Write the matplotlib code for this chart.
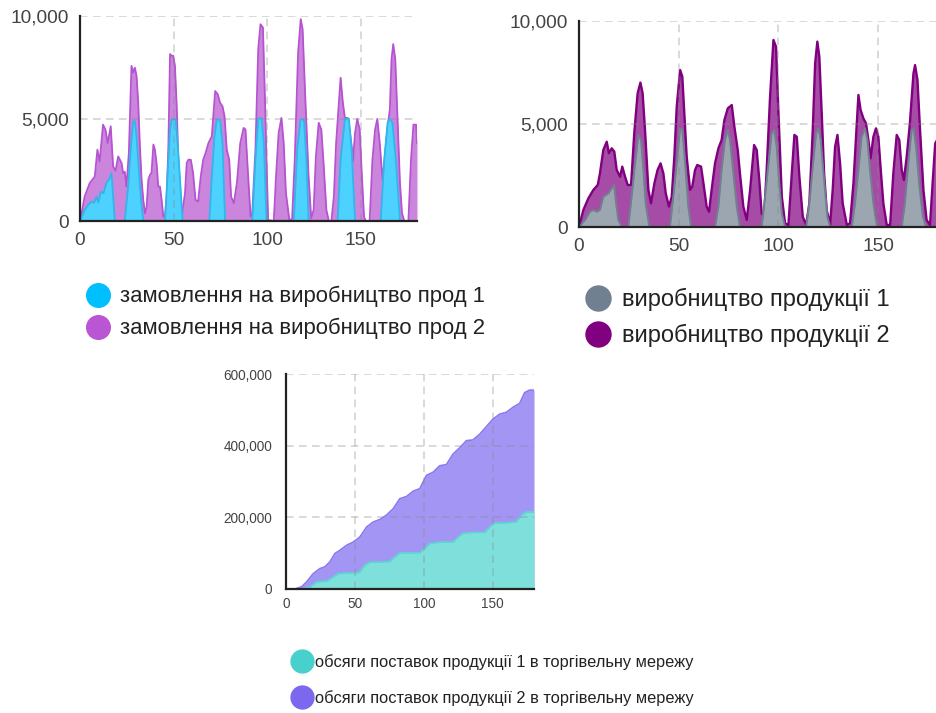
import matplotlib
matplotlib.use('Agg')
import numpy as np
import matplotlib.pyplot as plt
from matplotlib.lines import Line2D
from matplotlib.ticker import FuncFormatter

# points: (day, units)
orders_1 = [(0, 0), (2.5, 540), (4.5, 800), (6.1, 950), (7.5, 880), (8.8, 1190), (9.8, 900), (11.1, 1440),
            (12.5, 1350), (14.1, 1850), (15.9, 2090), (16.8, 2340), (17.7, 1190), (18.6, 0),
            (23.9, 0), (25.7, 1680), (27.2, 3640), (28.4, 4870), (29.3, 4870), (30.2, 4130), (31.4, 2500),
            (32.6, 1030), (33.8, 0),
            (45.4, 0), (46.9, 2500), (48.1, 4460), (49, 4950), (51.1, 4950), (52.5, 3320), (53.9, 1360), (54.8, 0),
            (69.1, 0), (70.4, 2170), (71.8, 4130), (73.1, 4950), (74.8, 4950), (76.1, 3800), (77.5, 0),
            (92, 0), (93.7, 2990), (95.2, 5000), (97, 5000), (98.2, 3800), (99.6, 0),
            (114.2, 0), (116, 3480), (117.8, 4950), (119.6, 4950), (120.9, 2990), (122.1, 0),
            (137.6, 0), (139.2, 2990), (141.5, 5000), (143.6, 5000), (145.1, 3480), (146.9, 0),
            (160.6, 0), (162.5, 2990), (164.3, 4790), (165.5, 5000), (166.9, 4790), (168.7, 2990), (170.9, 0),
            (180, 0)]
orders_2 = [(0, 0), (1, 450), (2.5, 1200), (5.2, 1850), (7.9, 2170), (9.3, 3480), (10.5, 2900), (12.3, 4700),
            (13.6, 4460), (14.8, 3800), (16.4, 4620), (17.7, 2660), (19, 2450), (20.4, 3150), (22.2, 2830),
            (23, 2340), (23.9, 2400), (24.8, 1680), (26.1, 3320), (27.2, 6590), (27.5, 7570), (28.4, 7240),
            (29.3, 7480), (30.2, 7080), (31.1, 5770), (32, 3640), (32.9, 2010), (33.8, 1030), (34.7, 375),
            (35.6, 700), (36.5, 2010), (37.4, 2260), (38.2, 2340), (39.2, 3730), (40, 3480), (40.9, 2830),
            (41.8, 1680), (42.7, 1680), (43.6, 1030), (44.5, 210), (45.4, 210), (46.3, 1190), (47.2, 3640),
            (48.1, 8140), (49, 8060), (49.8, 8060), (50.7, 7570), (51.6, 5770), (52.5, 2990), (53.4, 1360),
            (54.3, 210), (56.1, 1360), (57, 2830), (57.9, 2990), (59.2, 2990), (60.4, 2340), (61.7, 1030),
            (63.1, 950), (64.5, 2170), (65.8, 2990), (67.1, 3320), (68.6, 3800), (70.4, 4130), (72.2, 6340),
            (73.6, 6180), (74.8, 5770), (76.1, 5600), (77.2, 5110), (78.4, 3480), (79.7, 2990), (80.7, 1190),
            (82.2, 870), (83.8, 1850), (85.6, 3800), (87.4, 4540), (88.4, 4460), (89.3, 2990), (91.1, 210),
            (92, 380), (93.7, 3480), (95.2, 8380), (96.4, 9600), (97.7, 9440), (98.7, 6260), (99.6, 2990),
            (100.5, 50), (103.5, 0), (104.7, 2170), (106.1, 4300), (107.6, 5030), (108.8, 3800), (110, 1360),
            (111.9, 0), (113.3, 130), (114.7, 2990), (116.5, 8220), (117.9, 9850), (118.9, 9360), (120.3, 6100),
            (122.1, 2170), (123.5, 130), (124.8, 540), (126, 3150), (127.5, 4790), (128.9, 4460), (130.2, 2660),
            (131.6, 540), (132.9, 0), (134.3, 0), (135.6, 1190), (136.8, 3800), (138.3, 5770), (139.2, 6990),
            (140.4, 5770), (141.5, 5030), (142.8, 5030), (144, 4460), (145.1, 3640), (145.8, 2910), (146.9, 4300),
            (148.1, 4980), (149.4, 4460), (150.4, 2500), (151.7, 210), (152.6, 0), (154.7, 0), (156.2, 2990),
            (157.6, 4460), (158.8, 4980), (160.1, 3800), (161.6, 2010), (163, 3310), (164.3, 4620), (165.5, 5440),
            (166.4, 7890), (167.3, 8630), (168.4, 7890), (169.6, 4980), (170.9, 1850), (172, 380), (173.2, 0),
            (175.4, 0), (176.8, 2990), (178.1, 4700), (179.5, 4700), (180, 3800)]

production_1 = [(0, 0), (3, 340), (5.5, 740), (7.2, 830), (8.9, 740), (10.5, 830), (12.2, 1470), (14.7, 1630),
                (16.4, 1880), (17.6, 2040), (18.6, 1150), (19.7, 340), (21.4, 0),
                (24.7, 0), (26.4, 1470), (28.1, 3090), (29.8, 4470), (31.1, 4220), (32.3, 2770), (33.4, 1150),
                (35.1, 100), (36, 0),
                (45.6, 0), (47.3, 1470), (49, 3090), (50.7, 4790), (51.8, 4710), (53.2, 3090), (54.8, 990), (56.2, 0),
                (68.2, 0), (69.9, 990), (71.5, 2770), (73.2, 4220), (74.6, 4710), (75.7, 4220), (77.4, 2600),
                (79.1, 990), (80.7, 0),
                (91.6, 0), (93.3, 1470), (95, 3090), (96.6, 4550), (97.8, 4710), (99.1, 3900), (100.4, 2120),
                (101.7, 660), (103.3, 0),
                (113.9, 0), (115.5, 1150), (117.2, 2930), (118.9, 4550), (120, 4790), (121.2, 4220), (122.9, 2280),
                (124.5, 500), (125.9, 0),
                (136.8, 0), (138.4, 1150), (140.1, 2770), (141.7, 4380), (143.4, 4790), (144.6, 4220), (145.9, 2770),
                (147.6, 1150), (149.3, 100), (150.5, 0),
                (161.8, 0), (163.4, 1150), (165.1, 3090), (166.8, 4710), (167.7, 4790), (169, 3900), (170.7, 1960),
                (172.4, 500), (174.1, 0), (180, 0)]
production_2 = [(0, 0), (2.2, 830), (4.7, 1390), (7.2, 1800), (9.4, 2040), (10.5, 2600), (12.2, 3740), (13.9, 4140),
                (15, 3580), (16.4, 3820), (17.7, 3660), (18.9, 2770), (20.6, 2440), (21.7, 2930), (23.1, 2440),
                (24.4, 2040), (26.1, 2040), (27.7, 4550), (29.4, 6490), (30.8, 7010), (31.9, 6490), (33.1, 4710),
                (34.8, 1800), (36.1, 1150), (37.8, 2120), (39.4, 2770), (40.9, 3090), (42.3, 2600), (43.5, 1630),
                (45.1, 990), (46.5, 1470), (47.8, 3410), (49, 5840), (50.7, 7620), (51.8, 7300), (52.8, 5520),
                (54, 3410), (55.7, 1800), (56.8, 1960), (58.2, 2770), (59.3, 3010), (61.2, 2930), (62.4, 2120),
                (64, 990), (65.2, 740), (66.5, 1800), (68.2, 3090), (69.9, 3820), (71.5, 4220), (72.9, 5190),
                (74.6, 5760), (76.6, 5920), (77.9, 4870), (79.6, 3740), (80.7, 2600), (82.4, 990), (84.1, 340),
                (85.8, 1800), (87.8, 3980), (89.1, 3740), (90.4, 2280), (91.6, 660), (92.8, 500), (94.1, 2770),
                (95.8, 6330), (97.5, 9080), (98.8, 8750), (100, 5520), (101.7, 1470), (103.3, 180), (105, 100),
                (106.7, 2600), (108, 4470), (109.2, 4380), (110.5, 2440), (112.2, 500), (113.9, 100), (115.5, 1150),
                (117.2, 4710), (118.4, 7940), (119.5, 9000), (120.5, 8270), (121.7, 5520), (122.9, 2600), (124.2, 830),
                (125.9, 100), (127.2, 1800), (128.4, 3900), (129.6, 4470), (130.9, 3090), (132.2, 1150), (134.3, 100),
                (135.9, 180), (137.6, 2120), (138.9, 4380), (140.1, 6410), (141.2, 5680), (142.6, 5270), (143.9, 5030),
                (145.1, 4220), (146.2, 3330), (147.6, 4380), (148.9, 4790), (150.1, 4380), (151.3, 2770), (152.6, 1150),
                (154.3, 100), (156, 100), (157.6, 2600), (159.3, 4470), (160.6, 4220), (161.8, 2770), (162.9, 2280),
                (164.3, 3410), (165.9, 5030), (167.7, 7460), (168.5, 7860), (169.7, 7140), (171, 4710), (172.7, 1800),
                (174.3, 340), (176, 100), (177.4, 2280), (178.6, 4060), (180, 4300)]

deliveries_1 = [(0, 0), (12, 0), (17.4, 6000), (22.2, 20000), (29.5, 22000), (34.3, 34000), (37.9, 43000),
                (44, 45000), (51.2, 45000), (53.6, 48000), (57.2, 67000), (60.9, 75000), (68.1, 75000),
                (75.4, 77000), (79, 90000), (82.6, 101000), (97.1, 101000), (100.7, 113000), (104.3, 127000),
                (111.6, 131000), (121.3, 131000), (124.9, 145000), (128.5, 156000), (135.7, 158000), (144.2, 158000),
                (147.8, 173000), (151.4, 184000), (159.9, 185000), (167.1, 187000), (170.8, 206000), (174.4, 215000),
                (180, 215000)]
deliveries_2 = [(0, 0), (6.5, 0), (11.4, 6500), (15, 20000), (19.8, 43000), (24.6, 57000), (28.3, 62000),
                (31.9, 76000), (35.5, 99000), (39.1, 108000), (44, 122000), (48.8, 131000), (53.6, 145000),
                (58.5, 173000), (63.3, 187000), (68.1, 194000), (72.9, 206000), (77.8, 224000), (82.6, 252000),
                (87.4, 258000), (92.3, 273000), (97.1, 280000), (101.9, 317000), (106.8, 326000), (111.6, 344000),
                (116.4, 347000), (121.3, 377000), (126.1, 394000), (130.9, 414000), (135.7, 416000), (140.6, 432000),
                (145.4, 453000), (150.2, 474000), (155.1, 488000), (159.9, 493000), (164.7, 507000), (169.6, 518000),
                (173.2, 548000), (176.8, 555000), (180, 555000)]

labels_orders = ['замовлення на виробництво прод 1', 'замовлення на виробництво прод 2']
labels_production = ['виробництво продукції 1', 'виробництво продукції 2']
labels_deliveries = ['обсяги поставок продукції 1 в торгівельну мережу',
                     'обсяги поставок продукції 2 в торгівельну мережу']

W, H = 936, 713
SANS = ['Liberation Sans', 'DejaVu Sans']

fig = plt.figure(figsize=(W / 100, H / 100), dpi=100)


def box(left, top, right, bottom):
    # pixel box -> figure fraction
    return [left / W, 1 - bottom / H, (right - left) / W, (bottom - top) / H]


def draw_area(ax, points, fill, edge, z, lw):
    xs = [p[0] for p in points]
    ys = [p[1] for p in points]
    ax.fill_between(xs, 0, ys, color=fill, linewidth=0, zorder=z)
    ax.plot(xs, ys, color=edge, linewidth=lw, zorder=z + 0.05, solid_joinstyle='round')


def style(ax, ymax, ystep, size, xpad, ypad):
    ax.set_xlim(0, 180)
    ax.set_ylim(0, ymax)
    ax.set_xticks([0, 50, 100, 150])
    ax.set_yticks(np.arange(0, ymax + 1, ystep))
    ax.yaxis.set_major_formatter(FuncFormatter(lambda v, p: f'{int(v):,}'))
    for s in ['top', 'right']:
        ax.spines[s].set_visible(False)
    for s in ['left', 'bottom']:
        ax.spines[s].set_linewidth(1.6)
        ax.spines[s].set_color('#222222')
        ax.spines[s].set_zorder(3)
    ax.set_axisbelow(False)
    ax.grid(True, color='#888888', alpha=0.4, linestyle=(0, (5, 3.5)), linewidth=1.1)
    ax.tick_params(length=0, labelsize=size, labelcolor='#444444')
    ax.tick_params(axis='x', pad=xpad)
    ax.tick_params(axis='y', pad=ypad)
    for t in ax.get_xticklabels() + ax.get_yticklabels():
        t.set_family(SANS)


def legend(ax, colors, labels, left, top, size, spacing, textpad, marker):
    handles = [Line2D([], [], linestyle='', marker='o', markersize=marker, color=c) for c in colors]
    ax.legend(handles, labels, loc='upper left', bbox_to_anchor=(left / W, 1 - top / H),
              bbox_transform=fig.transFigure, frameon=False, borderpad=0, borderaxespad=0,
              handlelength=1.0, handletextpad=textpad, labelspacing=spacing,
              prop={'family': SANS, 'size': size}, labelcolor='#222222')


# chart 1
ax1 = fig.add_axes(box(80, 16, 417, 221))
draw_area(ax1, orders_2, '#cc85dd', '#b553d0', 1, 1.3)
draw_area(ax1, orders_1, '#4dd2ff', '#2fb6ea', 1.5, 1.3)
style(ax1, 10000, 5000, 13.8, 8, 8)
legend(ax1, ['#00bfff', '#ba55d3'], labels_orders, 87, 286, 15.9, 0.49, 0.49, 17)

# chart 2
ax2 = fig.add_axes(box(579, 21, 938, 227))
draw_area(ax2, production_2, '#a64ca6', '#800080', 1, 1.7)
draw_area(ax2, production_1, '#9ba6b1', '#708090', 1.5, 1.4)
style(ax2, 10000, 5000, 13.8, 8, 8)
legend(ax2, ['#708090', '#800080'], labels_production, 586, 288, 17, 0.54, 0.525, 18)

# chart 3
ax3 = fig.add_axes(box(286, 374, 534, 589))
draw_area(ax3, deliveries_2, '#a395f3', '#8a78f0', 1, 1.2)
draw_area(ax3, deliveries_1, '#7fdfdb', '#5cd6d1', 1.5, 1.2)
style(ax3, 600000, 200000, 9.8, 6, 10)
legend(ax3, ['#48d1cc', '#7b68ee'], labels_deliveries, 294, 654, 11.8, 1.25, 0.28, 16.5)

fig.savefig('out.png', dpi=100)
